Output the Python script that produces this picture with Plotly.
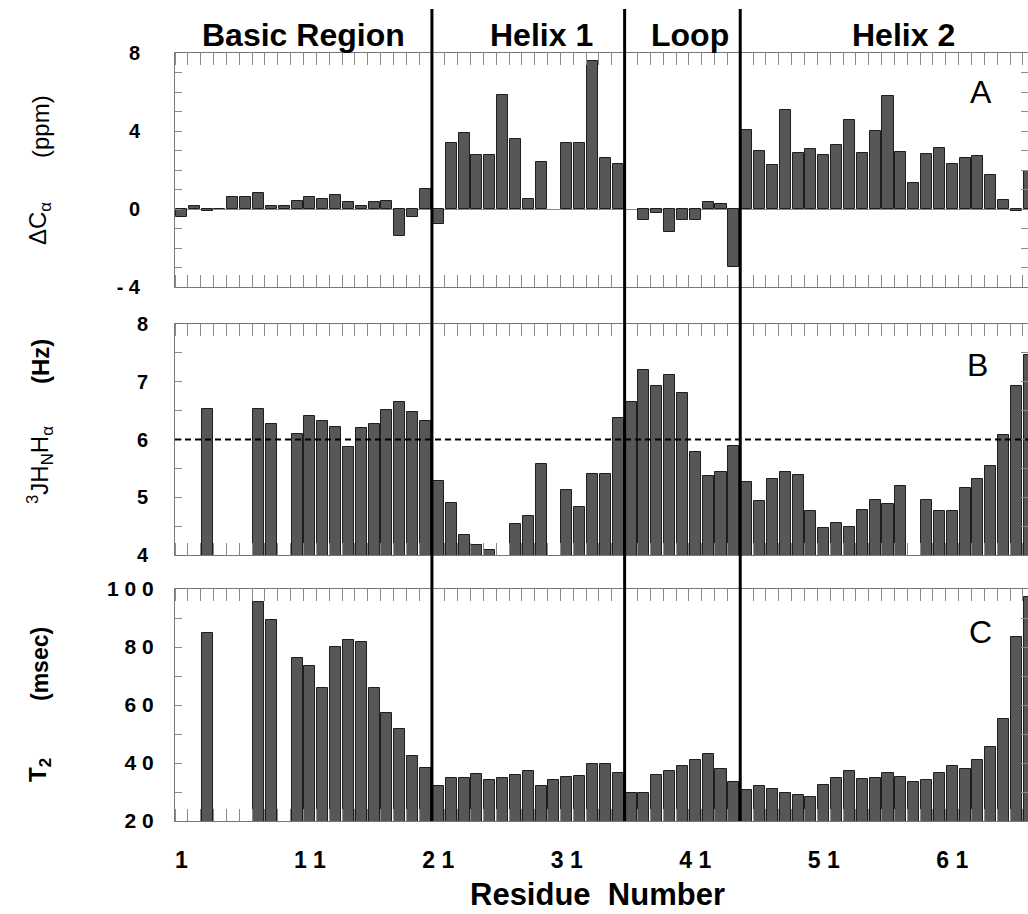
import plotly.graph_objects as go

# ---------------- data ----------------
residues = list(range(1, 68))

delta_ca = [-0.43, 0.14, -0.12, 0.0, 0.60, 0.60, 0.82, 0.14, 0.14, 0.41,
            0.60, 0.51, 0.72, 0.34, 0.14, 0.34, 0.43, -1.37, -0.39, 1.03,
            -0.77, 3.38, 3.88, 2.79, 2.79, 5.86, 3.59, 0.51, 2.39, None,
            3.38, 3.38, 7.57, 2.60, 2.31, None, -0.58, -0.20, -1.18, -0.58,
            -0.58, 0.34, 0.24, -2.97, 4.05, 2.96, 2.27, 5.06, 2.87, 3.08,
            2.79, 3.26, 4.58, 2.89, 4.00, 5.79, 2.90, 1.32, 2.80, 3.13,
            2.32, 2.63, 2.74, 1.73, 0.44, -0.09, 1.93]

j_hnha = [None, None, 6.52, None, None, None, 6.53, 6.26, None, 6.10,
          6.40, 6.32, 6.22, 5.87, 6.20, 6.27, 6.51, 6.65, 6.48, 6.32,
          5.29, 4.90, 4.34, 4.17, 4.09, None, 4.53, 4.68, 5.58, None,
          5.12, 4.83, 5.40, 5.40, 6.37, 6.65, 7.21, 6.92, 7.12, 6.81,
          5.78, 5.36, 5.44, 5.89, 5.26, 4.94, 5.31, 5.44, 5.39, 4.77,
          4.47, 4.56, 4.48, 4.78, 4.96, 4.88, 5.19, None, 4.95, 4.76,
          4.76, 5.16, 5.31, 5.54, 6.08, 6.92, 7.46]

t2 = [None, None, 85.0, None, None, None, 95.6, 89.4, None, 76.1,
      73.3, 65.9, 79.9, 82.4, 81.8, 65.9, 57.1, 51.7, 42.5, 38.4,
      31.9, 34.7, 34.8, 36.3, 34.3, 35.0, 35.9, 37.4, 32.1, 34.2,
      35.2, 35.4, 39.8, 39.8, 36.5, 29.6, 29.6, 36.0, 37.3, 38.8,
      41.0, 43.2, 38.0, 33.6, 30.7, 31.9, 31.2, 29.8, 28.8, 28.2,
      32.5, 34.7, 37.1, 34.5, 35.0, 36.6, 35.1, 33.4, 34.2, 36.6,
      38.9, 37.8, 41.2, 45.6, 55.3, 83.3, 97.4]

x_tick_vals = [1, 11, 21, 31, 41, 51, 61]
x_tick_text = ["1", "1 1", "2 1", "3 1", "4 1", "5 1", "6 1"]

region_names = ["Basic Region", "Helix 1", "Loop", "Helix 2"]
region_bounds = [20.5, 35.5, 44.5]
j_reference = 6.0

ya_vals = [-4, 0, 4, 8]
ya_text = ["- 4", "0", "4", "8"]
yb_vals = [4, 5, 6, 7, 8]
yb_text = ["4", "5", "6", "7", "8"]
yc_vals = [20, 40, 60, 80, 100]
yc_text = ["2 0", "4 0", "6 0", "8 0", "1 0 0"]

# ---------------- layout helpers ----------------
W, H = 1028, 914
L, R = 175, 1028


def py(p):
    """pixel row -> paper y"""
    return (H - p) / H


def px(p):
    """pixel column -> paper x"""
    return (p - L) / (R - L)


FONT = "Liberation Sans, Arial, Helvetica, sans-serif"
BAR_FILL = "#575757"
BAR_LINE = "#1e1e1e"
FRAME = "#777777"
TICK = "#8a8a8a"
region_label_x = [10.5, 29.0, 40.6, 57.2]

fig = go.Figure()

for vals, xa, ya in [(delta_ca, "x", "y"), (j_hnha, "x2", "y2"), (t2, "x3", "y3")]:
    fig.add_trace(go.Bar(
        x=residues, y=vals, width=0.86, xaxis=xa, yaxis=ya,
        marker=dict(color=BAR_FILL, line=dict(color=BAR_LINE, width=1)),
        showlegend=False, hoverinfo="skip"))


def xaxis_cfg(anchor, labels):
    return dict(
        domain=[0, 1], anchor=anchor, range=[0.5, 66.9], automargin=False,
        showline=True, linecolor=FRAME, linewidth=1, mirror="ticks",
        ticks="", showgrid=False, zeroline=False,
        tickvals=x_tick_vals, ticktext=x_tick_text,
        showticklabels=labels,
        tickfont=dict(family=FONT, size=23, color="black", weight="bold"),
        ticklabelstandoff=18,
        minor=dict(ticks="inside", tick0=0.5, dtick=1, ticklen=12,
                   tickcolor=TICK, tickwidth=1, showgrid=False),
    )


def yaxis_cfg(anchor, dom, rng, vals, text, minor_dt, standoff, fsize, zl=False):
    return dict(
        domain=dom, anchor=anchor, range=rng, automargin=False,
        tickvals=vals, ticktext=text,
        ticks="inside", ticklen=7, tickcolor=TICK, tickwidth=1,
        minor=dict(ticks="inside", tick0=rng[0], dtick=minor_dt, ticklen=7,
                   tickcolor=TICK, tickwidth=1, showgrid=False),
        showline=True, linecolor=FRAME, linewidth=1, mirror="ticks",
        showgrid=False, zeroline=zl, zerolinecolor="#8a8a8a", zerolinewidth=1,
        tickfont=dict(family=FONT, size=fsize, color="black", weight="bold"),
        ticklabelstandoff=standoff,
    )


fig.update_layout(
    width=W, height=H,
    margin=dict(l=L, r=W - R, t=0, b=0, autoexpand=False),
    paper_bgcolor="white", plot_bgcolor="white",
    bargap=0,
    xaxis=xaxis_cfg("y", False),
    xaxis2=xaxis_cfg("y2", False),
    xaxis3=xaxis_cfg("y3", True),
    yaxis=yaxis_cfg("x", [py(287), py(53)], [-4, 8], ya_vals, ya_text, 1, 30, 20, zl=True),
    yaxis2=yaxis_cfg("x2", [py(555), py(324)], [4, 8], yb_vals, yb_text, 0.5, 22, 20),
    yaxis3=yaxis_cfg("x3", [py(821), py(589)], [20, 100], yc_vals, yc_text, 10, 16, 21),
)

shapes = []
for b in region_bounds:
    shapes.append(dict(type="line", xref="x3", yref="paper", x0=b, x1=b,
                       y0=py(821), y1=py(9), line=dict(color="black", width=3)))
shapes.append(dict(type="line", xref="x2 domain", yref="y2", x0=0, x1=1,
                   y0=j_reference, y1=j_reference,
                   line=dict(color="black", width=2, dash="6px,4px")))
fig.update_layout(shapes=shapes)

ann = []
for name, xpos in zip(region_names, region_label_x):
    ann.append(dict(text=name, xref="x", yref="paper", x=xpos, y=py(35),
                    showarrow=False, xanchor="center", yanchor="middle",
                    font=dict(family=FONT, size=32, color="black", weight="bold")))

for letter, (lx, ly) in zip(["A", "B", "C"], [(981, 92), (977, 365), (980, 632)]):
    ann.append(dict(text=letter, xref="paper", yref="paper", x=px(lx), y=py(ly),
                    showarrow=False, xanchor="center", yanchor="middle",
                    font=dict(family=FONT, size=32, color="black")))

titles = [
    ("(ppm)", 127, 24, "normal"),
    ("\u0394C<sub>\u03b1</sub>", 224, 24, "normal"),
    ("(Hz)", 362, 24, "bold"),
    ("<sup>3</sup>JH<sub>N</sub>H<sub>\u03b1</sub>", 465, 24, "normal"),
    ("(msec)", 664, 23, "bold"),
    ("T<sub>2</sub>", 770, 24, "bold"),
]
for txt, yc, fs, wt in titles:
    ann.append(dict(text=txt, xref="paper", yref="paper", x=px(40), y=py(yc),
                    showarrow=False, textangle=-90, xanchor="center", yanchor="middle",
                    font=dict(family=FONT, size=fs, color="black", weight=wt)))

ann.append(dict(text="Residue  Number", xref="paper", yref="paper", x=px(597), y=py(894),
                showarrow=False, xanchor="center", yanchor="middle",
                font=dict(family=FONT, size=31, color="black", weight="bold")))

fig.update_layout(annotations=ann)

# remove the browser's default page margin so the figure sits at the window's corner
fig.write_html(
    "out.html",
    config={"displayModeBar": False},
    post_script="document.body.style.margin='0';document.body.style.overflow='hidden';",
)
